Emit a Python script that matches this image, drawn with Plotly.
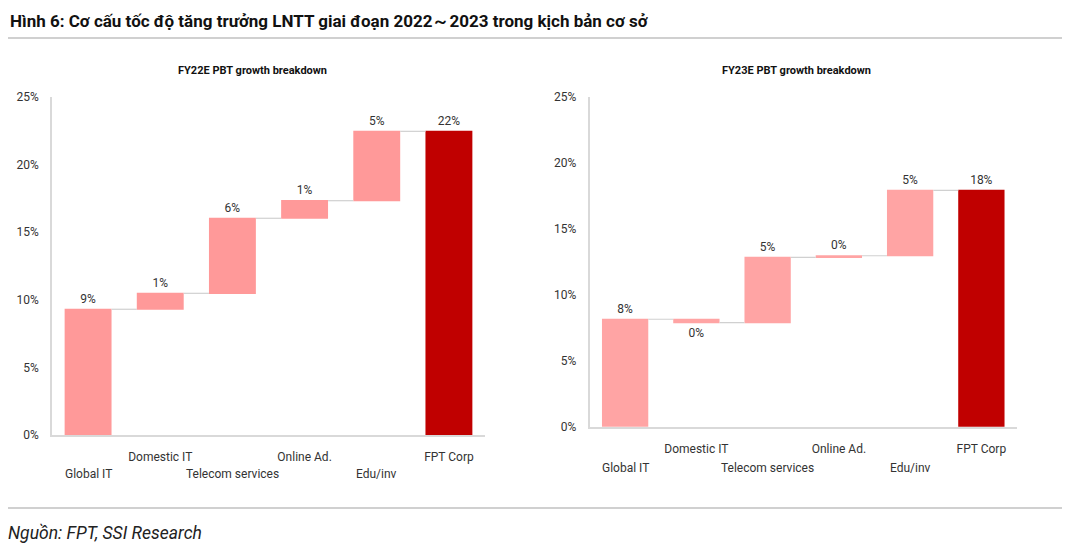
import plotly.graph_objects as go

categories = ["Global IT", "Domestic IT", "Telecom services", "Online Ad.", "Edu/inv", "FPT Corp"]
measures = ["relative", "relative", "relative", "relative", "relative", "total"]

fy22_values = [9.3, 1.18, 5.55, 1.3, 5.13, 0]
fy22_labels = ["9%", "1%", "6%", "1%", "5%", "22%"]

fy23_values = [8.14, -0.26, 4.95, 0.12, 4.95, 0]
fy23_labels = ["8%", "0%", "5%", "0%", "5%", "18%"]

tick_vals = [0, 5, 10, 15, 20, 25]
tick_text = ["0%", "5%", "10%", "15%", "20%", "25%"]

# staggered category labels: lower row drawn as annotations
lower_row = [True, False, True, False, True, False]
upper_ticktext = ["" if low else c for c, low in zip(categories, lower_row)]
lower_cats = [c for c, low in zip(categories, lower_row) if low]

FONT = "Roboto, sans-serif"
PINK_L = "#FF9999"
PINK_R = "#FFA4A4"
DARK = "#C00000"
TXT = "#333333"

# page has an 8px body margin; figure sized to fit the 1070x550 window
OFF = 8.0
W = 1062.0
H = 542.0
def fx(px):
    return (px - OFF) / W
def fy(py):
    return 1 - (py - OFF) / H

fig = go.Figure()

def add_wf(vals, labels, xa, ya, pink):
    fig.add_trace(go.Waterfall(
        x=categories, y=vals, measure=measures,
        text=labels, textposition="outside",
        textfont=dict(family=FONT, size=12, color=TXT),
        increasing=dict(marker=dict(color=pink)),
        decreasing=dict(marker=dict(color=pink)),
        totals=dict(marker=dict(color=DARK)),
        connector=dict(line=dict(color="#d0d0d0", width=1.2)),
        width=0.65, cliponaxis=False,
        xaxis=xa, yaxis=ya, showlegend=False, hoverinfo="skip",
    ))

add_wf(fy22_values, fy22_labels, "x", "y", PINK_L)
add_wf(fy23_values, fy23_labels, "x2", "y2", PINK_R)

xcommon = dict(
    type="category", showline=True, linecolor="#d9d9d9", linewidth=1.5,
    showgrid=False, ticks="outside", ticklen=10, tickcolor="rgba(0,0,0,0)",
    tickmode="array", tickvals=categories, ticktext=upper_ticktext,
    tickfont=dict(family=FONT, size=12, color=TXT), tickangle=0,
    zeroline=False, automargin=False,
)
ycommon = dict(
    range=[0, 25], tickvals=tick_vals, ticktext=tick_text,
    showline=True, linecolor="#d9d9d9", linewidth=1.5, showgrid=False,
    zeroline=False, ticks="outside", ticklen=9, tickcolor="rgba(0,0,0,0)",
    tickfont=dict(family=FONT, size=12, color=TXT), automargin=False,
)

fig.update_layout(
    width=int(W), height=int(H), autosize=False,
    margin=dict(l=0, r=0, t=0, b=0, pad=0, autoexpand=False),
    paper_bgcolor="white", plot_bgcolor="white",
    xaxis=dict(domain=[fx(52), fx(485)], anchor="y", **xcommon),
    yaxis=dict(domain=[fy(435), fy(97)], anchor="x", **ycommon),
    xaxis2=dict(domain=[fx(589.5), fx(1017)], anchor="y2", **xcommon),
    yaxis2=dict(domain=[fy(426.7), fy(96.7)], anchor="x2", **ycommon),
    font=dict(family=FONT, color=TXT),
)

annotations = [
    dict(text="<b>Hình 6: Cơ cấu tốc độ tăng trưởng LNTT giai đoạn 2022～2023 trong kịch bản cơ sở</b>",
         x=fx(8), y=fy(9), xref="paper", yref="paper", xanchor="left", yanchor="top",
         showarrow=False, font=dict(family=FONT, size=17, color="#111111")),
    dict(text="<b>FY22E PBT growth breakdown</b>",
         x=fx(252), y=fy(71), xref="paper", yref="paper", xanchor="center", yanchor="middle",
         showarrow=False, font=dict(family=FONT, size=11, color="#111111")),
    dict(text="<b>FY23E PBT growth breakdown</b>",
         x=fx(796), y=fy(71), xref="paper", yref="paper", xanchor="center", yanchor="middle",
         showarrow=False, font=dict(family=FONT, size=11, color="#111111")),
    dict(text="<i>Nguồn: FPT, SSI Research</i>",
         x=fx(6), y=fy(533), xref="paper", yref="paper", xanchor="left", yanchor="middle",
         showarrow=False, font=dict(family=FONT, size=17.5, color="#222222")),
]
for c in lower_cats:
    annotations.append(dict(text=c, x=c, xref="x", y=fy(474), yref="paper",
                            xanchor="center", yanchor="middle", showarrow=False,
                            font=dict(family=FONT, size=12, color=TXT)))
    annotations.append(dict(text=c, x=c, xref="x2", y=fy(468.3), yref="paper",
                            xanchor="center", yanchor="middle", showarrow=False,
                            font=dict(family=FONT, size=12, color=TXT)))
fig.update_layout(annotations=annotations)

fig.update_layout(shapes=[
    dict(type="line", xref="paper", yref="paper", x0=0, x1=1, y0=fy(38), y1=fy(38),
         line=dict(color="#c0c0c0", width=1.5)),
    dict(type="line", xref="paper", yref="paper", x0=0, x1=1, y0=fy(508), y1=fy(508),
         line=dict(color="#c0c0c0", width=1.5)),
])

fig.write_html("out.html")
